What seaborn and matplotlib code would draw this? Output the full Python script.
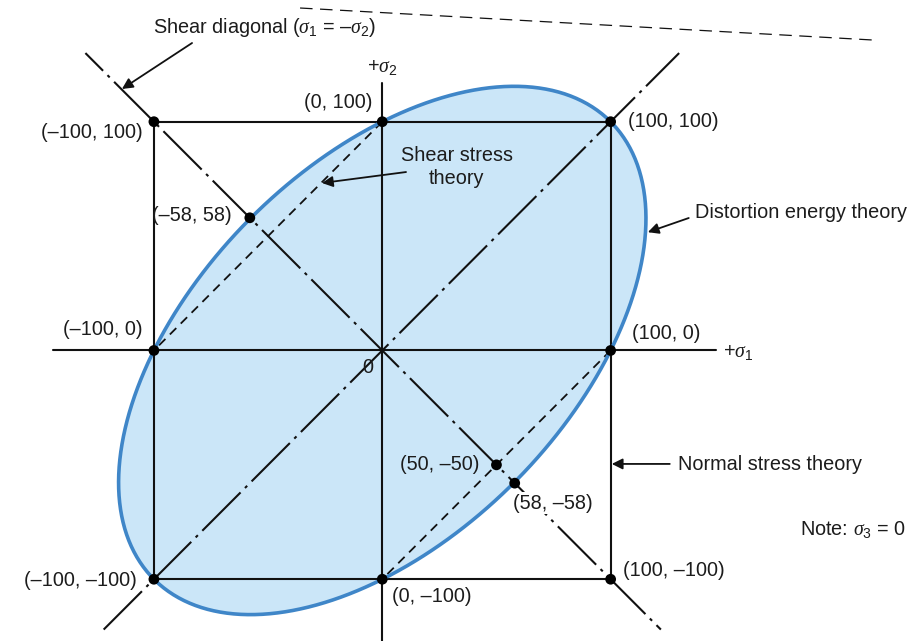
import numpy as np
import pandas as pd
import matplotlib
matplotlib.use("Agg")
import matplotlib.pyplot as plt
import seaborn as sns

# Yield strength used to scale the failure envelopes (sigma_3 = 0)
yield_strength = 100

# Labelled stress states (sigma_1, sigma_2)
point_s1 = [-100, 0, 100, -58, -100, 100, 50, 58, -100, 0, 100]
point_s2 = [100, 100, 100, 58, 0, 0, -50, -58, -100, -100, -100]

# Normal stress theory: square of side 2*Sy
square_s1 = [-100, 100, 100, -100, -100]
square_s2 = [-100, -100, 100, 100, -100]

# Shear stress theory: extra edges in quadrants II and IV
tresca_q2_s1 = [0, -100]
tresca_q2_s2 = [100, 0]
tresca_q4_s1 = [100, 0]
tresca_q4_s2 = [0, -100]

# Reference lines
diag_s1 = [-122, 130]          # sigma_1 = sigma_2
shear_diag_s1 = [-130, 122]    # sigma_1 = -sigma_2
h_axis_s1 = [-144, 146]
v_axis_s2 = [-130, 117]
top_line_s1 = [-36, 215]
top_line_s2 = [149.7, 135.7]

sns.set_theme(style="white")
plt.rcParams["font.family"] = ["Liberation Sans", "DejaVu Sans"]
plt.rcParams["mathtext.fontset"] = "custom"
plt.rcParams["mathtext.rm"] = "Liberation Sans"
plt.rcParams["mathtext.it"] = "Liberation Serif:italic"
plt.rcParams["mathtext.bf"] = "Liberation Sans:bold"

fig = plt.figure(figsize=(9.18, 6.41), dpi=100)
ax = fig.add_axes([0, 0, 1, 1])
ax.set_xlim(-167.4, 234.6)
ax.set_ylim(-127.0, 153.2)
ax.axis("off")

# Distortion energy (von Mises) ellipse: s1^2 - s1*s2 + s2^2 = Sy^2
t = np.linspace(0, 2 * np.pi, 400)
a = np.sqrt(2) * yield_strength
b = np.sqrt(2.0 / 3.0) * yield_strength
u = a * np.cos(t)
v = b * np.sin(t)
ell = pd.DataFrame({"s1": (u - v) / np.sqrt(2), "s2": (u + v) / np.sqrt(2)})
ax.fill(ell["s1"], ell["s2"], color="#cbe6f8", zorder=1, lw=0)

ink = "#111111"
solid_lw = 1.5

# Axes of the stress plane
ax.plot(h_axis_s1, [0, 0], color=ink, lw=solid_lw, zorder=3)
ax.plot([0, 0], v_axis_s2, color=ink, lw=solid_lw, zorder=3)

# Normal stress square
sns.lineplot(x=square_s1, y=square_s2, sort=False, estimator=None, color=ink, lw=solid_lw, ax=ax, zorder=3)

# Tresca hexagon edges
for xs, ys in [(tresca_q2_s1, tresca_q2_s2), (tresca_q4_s1, tresca_q4_s2)]:
    ax.plot(xs, ys, color=ink, lw=1.3, linestyle=(0, (5, 3.5)), zorder=3)

# Diagonals (dash-dot)
ax.plot(diag_s1, diag_s1, color=ink, lw=1.5, linestyle=(0, (26, 3, 1.5, 3)), zorder=3)
ax.plot(shear_diag_s1, [-s for s in shear_diag_s1], color=ink, lw=1.5,
        linestyle=(14, (26, 3, 1.5, 3)), zorder=3)

# Thin dashed rule near the top edge
ax.plot(top_line_s1, top_line_s2, color=ink, lw=0.9, linestyle=(0, (10, 6)), zorder=3)

# Ellipse outline
sns.lineplot(data=ell, x="s1", y="s2", sort=False, estimator=None, color="#3f86c8", lw=2.6, ax=ax, zorder=4)

# Marked stress states
sns.scatterplot(x=point_s1, y=point_s2, color="black", s=60, edgecolor="none", ax=ax, zorder=6)

fs = 14.3
tc = "#1c1c1c"
txt = dict(fontsize=fs, color=tc, zorder=7)

def coord(x, y):
    return f"({x:g}, {y:g})".replace("-", "\u2013")

ax.text(-4.1, 108.6, coord(0, 100), ha="right", va="center", **txt)
ax.text(-104.8, 95.1, coord(-100, 100), ha="right", va="center", **txt)
ax.text(107.6, 99.9, coord(100, 100), ha="left", va="center", **txt)
ax.text(-65.8, 59.2, coord(-58, 58), ha="right", va="center", **txt)
ax.text(-104.8, 9.0, coord(-100, 0), ha="right", va="center", **txt)
ax.text(109.3, 7.2, coord(100, 0), ha="left", va="center", **txt)
ax.text(42.7, -50.0, coord(50, -50), ha="right", va="center", **txt)
ax.text(57.2, -66.7, coord(58, -58), ha="left", va="center",
        bbox=dict(facecolor="white", edgecolor="none", pad=1.0), **txt)
ax.text(105.6, -96.4, coord(100, -100), ha="left", va="center", **txt)
ax.text(-107.4, -100.4, coord(-100, -100), ha="right", va="center", **txt)
ax.text(4.2, -107.7, coord(0, -100), ha="left", va="center", **txt)
ax.text(-6.3, -7.6, "0", ha="center", va="center", **txt)

ax.text(149.2, -1.0, r"+$\sigma_\mathrm{1}$", ha="left", va="center", **txt)
ax.text(-6.7, 123.5, r"+$\sigma_\mathrm{2}$", ha="left", va="center", **txt)
ax.text(-51.7, 141.0, "Shear diagonal ($\\sigma_\\mathrm{1}$ = \u2013$\\sigma_\\mathrm{2}$)",
        ha="center", va="center", **txt)
ax.text(32.7, 80.2, "Shear stress\ntheory", ha="center", va="center", linespacing=1.25, **txt)
ax.text(136.9, 60.5, "Distortion energy theory", ha="left", va="center", **txt)
ax.text(129.4, -50.0, "Normal stress theory", ha="left", va="center", **txt)
ax.text(182.9, -78.3, r"Note: $\sigma_\mathrm{3}$ = 0", ha="left", va="center", **txt)

arrow = dict(arrowstyle="-|>", color=ink, lw=1.3, mutation_scale=16, shrinkA=0, shrinkB=0)
ax.annotate("", xy=(-114.0, 114.3), xytext=(-83.3, 134.4), arrowprops=arrow, zorder=7)
ax.annotate("", xy=(-26.4, 73.2), xytext=(10.4, 78.0), arrowprops=arrow, zorder=7)
ax.annotate("", xy=(116.3, 51.7), xytext=(134.2, 57.9), arrowprops=arrow, zorder=7)
ax.annotate("", xy=(100.5, -49.6), xytext=(125.9, -49.6), arrowprops=arrow, zorder=7)

fig.savefig("out.png", dpi=100, facecolor="white")
